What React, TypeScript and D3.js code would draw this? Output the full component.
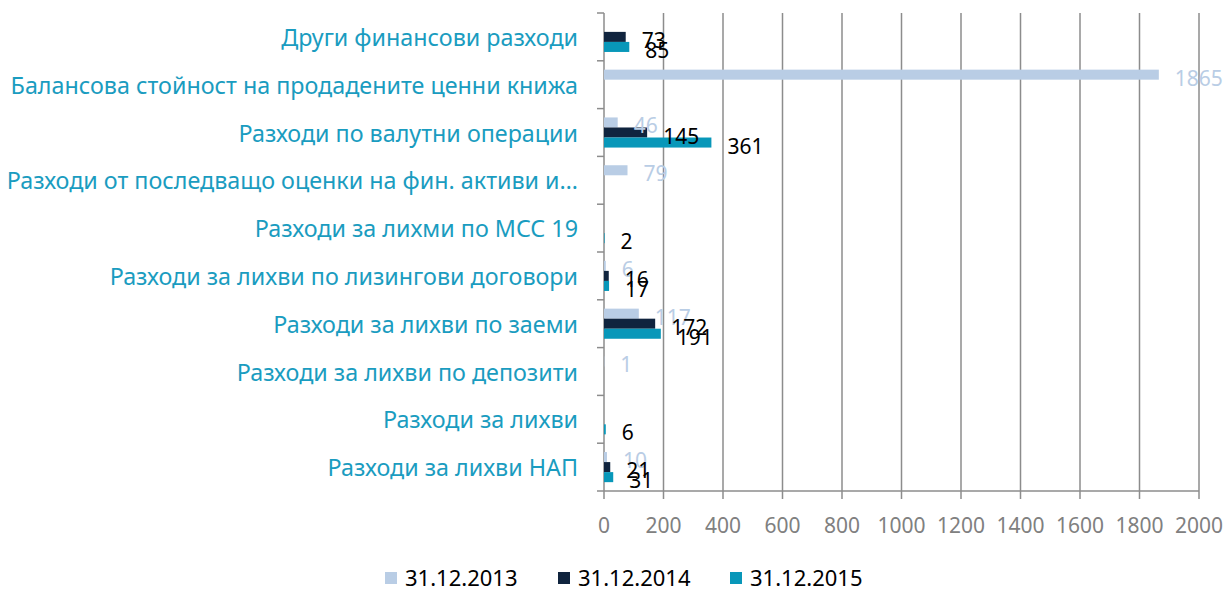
import React from "react";
import * as d3 from "d3";

const categories = [
  "Други финансови разходи",
  "Балансова стойност на продадените ценни книжа",
  "Разходи по валутни операции",
  "Разходи от последващо оценки на фин. активи и…",
  "Разходи за лихми по МСС 19",
  "Разходи за лихви по лизингови договори",
  "Разходи за лихви по заеми",
  "Разходи за лихви по депозити",
  "Разходи за лихви",
  "Разходи за лихви НАП",
];

const seriesNames = ["31.12.2013", "31.12.2014", "31.12.2015"];
const values2013: (number | null)[] = [null, 1865, 46, 79, null, 6, 117, 1, null, 10];
const values2014: (number | null)[] = [73, null, 145, null, null, 16, 172, null, null, 21];
const values2015: (number | null)[] = [85, null, 361, null, 2, 17, 191, null, 6, 31];
const xTicks = [0, 200, 400, 600, 800, 1000, 1200, 1400, 1600, 1800, 2000];

const seriesColors = ["#b9cde5", "#10243e", "#0897b9"];
const labelColors = ["#b9cde5", "#000000", "#000000"];

export default function App() {
  const W = 1230, H = 592;
  const left = 604, right = 1199, top = 13, bottom = 491;
  const font = "'Noto Sans', sans-serif";
  const x = d3.scaleLinear().domain([0, 2000]).range([left, right]);
  const y = d3.scaleBand<string>().domain(categories).range([top, bottom]);
  const bw = y.bandwidth();
  const barH = bw * 0.21;
  const inner = d3.scaleBand<string>().domain(seriesNames).range([0, barH * 3]);
  const allSeries = [values2013, values2014, values2015];

  const legendX = [385, 558, 730];

  return (
    <svg width={W} height={H} style={{ position: "absolute", left: 0, top: 0, background: "#fff" }} fontFamily={font}>
      {/* gridlines */}
      {xTicks.slice(1).map((t) => (
        <line key={"g" + t} x1={x(t)} x2={x(t)} y1={top} y2={bottom + 8} stroke="#8c8c8c" strokeWidth={1.5} />
      ))}
      {/* x axis line */}
      <line x1={left} x2={right} y1={bottom} y2={bottom} stroke="#8c8c8c" strokeWidth={1.5} />
      {/* y axis */}
      <line x1={left} x2={left} y1={top} y2={bottom + 8} stroke="#8c8c8c" strokeWidth={1.5} />
      {categories.map((c) => (
        <line key={"yt" + c} x1={left - 7} x2={left} y1={y(c)!} y2={y(c)!} stroke="#8c8c8c" strokeWidth={1.5} />
      ))}
      <line x1={left - 7} x2={left} y1={bottom} y2={bottom} stroke="#8c8c8c" strokeWidth={1.5} />
      {/* x tick labels */}
      {xTicks.map((t) => (
        <text key={"xl" + t} x={x(t)} y={525} textAnchor="middle" dominantBaseline="central" fontSize={21} fill="#808080">
          {t}
        </text>
      ))}
      {/* category labels */}
      {categories.map((c) => (
        <text key={"cl" + c} x={578} y={y(c)! + bw / 2} textAnchor="end" dominantBaseline="central" fontSize={23.3} fill="#1a9cc0">
          {c}
        </text>
      ))}
      {/* bars */}
      {allSeries.map((vals, si) =>
        vals.map((v, ci) => {
          if (v === null) return null;
          const c = categories[ci];
          const y0 = y(c)! + (bw - barH * 3) / 2 + inner(seriesNames[si])!;
          return (
            <rect key={"b" + si + "-" + ci} x={x(0)} y={y0} width={x(v) - x(0)} height={barH} fill={seriesColors[si]} />
          );
        })
      )}
      {/* data labels */}
      {allSeries.map((vals, si) =>
        vals.map((v, ci) => {
          if (v === null) return null;
          const c = categories[ci];
          const y0 = y(c)! + (bw - barH * 3) / 2 + inner(seriesNames[si])!;
          return (
            <text key={"l" + si + "-" + ci} x={x(v) + 16} y={y0 + barH / 2 + 3} dominantBaseline="central" fontSize={21} fill={labelColors[si]}>
              {v}
            </text>
          );
        })
      )}
      {/* legend */}
      {seriesNames.map((s, i) => (
        <g key={"lg" + s}>
          <rect x={legendX[i]} y={572} width={12} height={12} fill={seriesColors[i]} />
          <text x={legendX[i] + 20} y={577} dominantBaseline="central" fontSize={22} fill="#000">
            {s}
          </text>
        </g>
      ))}
    </svg>
  );
}
